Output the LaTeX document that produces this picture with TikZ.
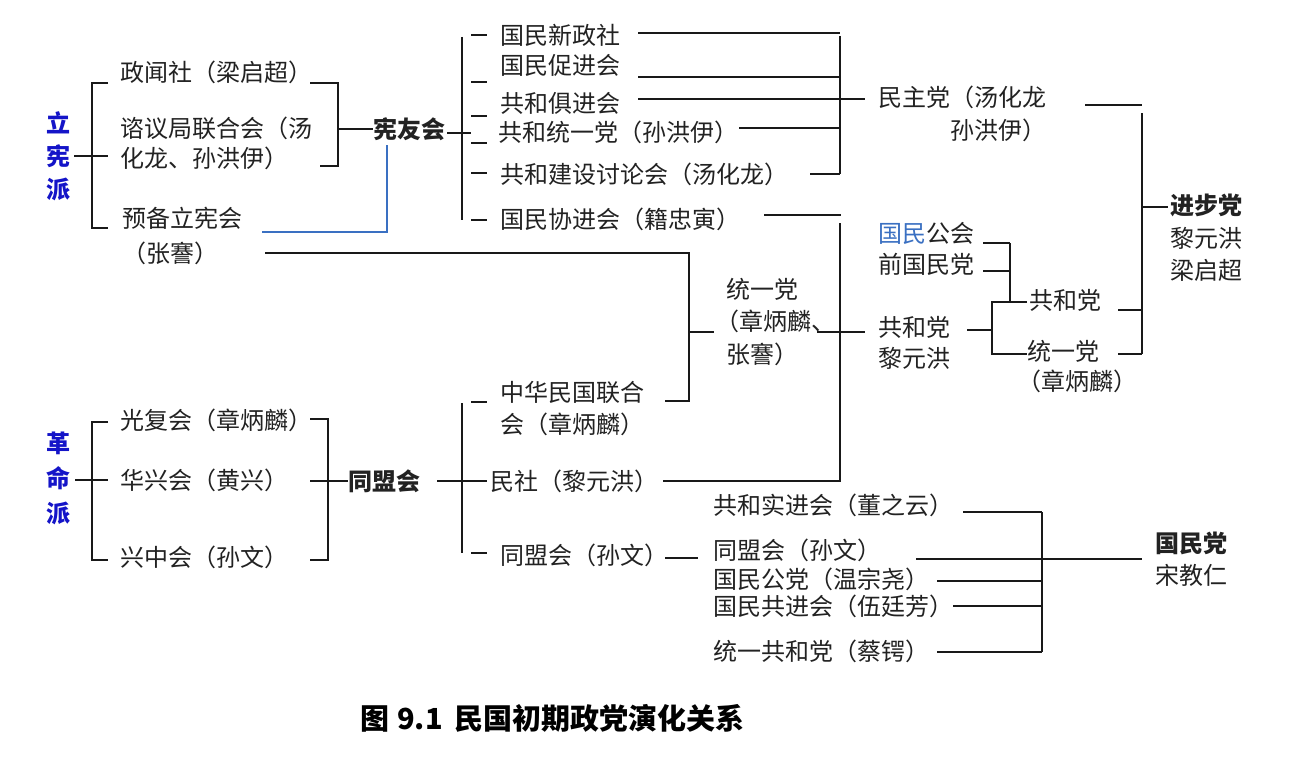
\documentclass[tikz,border=0pt]{standalone}
\usepackage{fontspec}
\setmainfont{Noto Sans CJK SC}
\definecolor{tx}{HTML}{222222}
\definecolor{pblue}{HTML}{1414C8}
\definecolor{lblue}{HTML}{3A70C2}
\newcommand{\fsz}[1]{\fontsize{24}{#1}\selectfont}
\tikzset{
  t/.style={anchor=west, inner sep=0pt, text=tx, font=\fsz{30}, align=left},
  tb/.style={t, font=\bfseries\fsz{30}},
  vlab/.style={anchor=center, inner sep=0pt, text=pblue, font=\bfseries\fsz{#1}, align=center},
  ln/.style={line width=1.5pt, draw=black!90},
  bln/.style={line width=1.3pt, draw=lblue},
}
\begin{document}
\begin{tikzpicture}[x=1pt,y=-1pt]
\useasboundingbox[fill=white] (0,0) rectangle (1292,768);

% ---------- left top: 立宪派 ----------
\node[vlab=33] (lxp) at (58,156) {立\\宪\\派};
\node[t] (zws) at (120,72) {政闻社（梁启超）};
\node[t] (zyj) at (120,143) {谘议局联合会（汤\\化龙、孙洪伊）};
\node[t, font=\fsz{35}] (ybl) at (122,235.5) {预备立宪会\\（张謇）};
\node[tb] (xyh) at (373,129) {宪友会};

\coordinate (l1) at (92,156);
\draw[ln] (lxp.east) ++(4,0) coordinate (lxpE) -- (l1);
\draw[ln] (108,83) -- (92,83) -- (92,228) -- (108,228);
\draw[ln] (l1) -- (108,156);
\draw[ln] (310,83) -- (338,83) -- (338,166) -- (320,166);
\draw[ln] (338,129) -- (xyh.west);
\coordinate (blA) at (262,232);
\coordinate (blB) at (387,145);
\draw[bln] (blA) -| (blB);

% long line from (张謇) to 统一党
\coordinate (zjA) at (265,253);
\coordinate (zjB) at (689,253);
\coordinate (zjC) at (689,401);
\draw[ln] (zjA) -- (zjB) -- (zjC) -- (665,401);
\node[t, font=\fsz{32.5}] (tyd) at (726,322) {统一党\\\hspace*{-11pt}（章炳麟、\\张謇）};
\draw[ln] (689,332) -- (714,332);
\draw[ln] (817,332) -- (865,332);

% ---------- 宪友会 branches ----------
\draw[ln] (xyh.east) ++(2,4) -- (471,133);
\draw[ln] (462,37) -- (462,220);
\foreach \yy in {35,82,116,143,173,220} \draw[ln] (471,\yy) -- (487,\yy);

\node[t] (gmxz) at (500,35) {国民新政社};
\node[t] (gmcj) at (500,65) {国民促进会};
\node[t] (ghjj) at (500,103) {共和俱进会};
\node[t] (ghty) at (498,132) {共和统一党（孙洪伊）};
\node[t] (ghjs) at (500,174) {共和建设讨论会（汤化龙）};
\node[t] (gmxj) at (500,219) {国民协进会（籍忠寅）};

\draw[ln] (638,33) -- (840,33);
\draw[ln] (638,77) -- (840,77);
\draw[ln] (638,99) -- (865,99);
\draw[ln] (739,128) -- (840,128);
\draw[ln] (810,174) -- (840,174);
\draw[ln] (840,36) -- (840,174);

\node[t, align=right, font=\fsz{33}] (mzd) at (878,113.5) {民主党（汤化龙\\孙洪伊）};
\draw[ln] (1085,105) -- (1142,105);
\draw[ln] (1142,113) -- (1142,354);
\draw[ln] (1142,207) -- (1168,207);
\node[t, font=\fsz{32.5}] (jbd) at (1170,238) {\textbf{进步党}\\黎元洪\\梁启超};

% 国民协进会 -> 共和党 column
\draw[ln] (764,215) -- (841,215);
\draw[ln] (840,223) -- (840,482);

\node[t, font=\fsz{31}] (gmgh) at (878,248.5) {\textcolor{lblue}{国民}公会\\前国民党};
\draw[ln] (983,243) -- (1010,243);
\draw[ln] (983,271) -- (1010,271);
\draw[ln] (1010,243) -- (1010,302);

\node[t, font=\fsz{31}] (ghd2) at (878,342.5) {共和党\\黎元洪};
\draw[ln] (967,330) -- (992,330);
\draw[ln] (1027,302) -- (992,302) -- (992,354) -- (1027,354);
\node[t] (ghd3) at (1029,300) {共和党};
\node[t, font=\fsz{30}] (tyd2) at (1027,367) {统一党\\\hspace*{-10pt}（章炳麟）};
\draw[ln] (1118,310) -- (1142,310);
\draw[ln] (1118,354) -- (1142,354);

% ---------- left bottom: 革命派 ----------
\node[vlab=35] (gmp) at (58,478) {革\\命\\派};
\node[t] (gfh) at (120,420) {光复会（章炳麟）};
\node[t] (hxh) at (120,480) {华兴会（黄兴）};
\node[t] (xzh) at (120,557) {兴中会（孙文）};
\draw[ln] (75,480) -- (108,480);
\draw[ln] (108,422) -- (92,422) -- (92,560) -- (108,560);
\draw[ln] (310,419) -- (328,419) -- (328,560) -- (310,560);
\node[tb] (tmh) at (348,481) {同盟会};
\draw[ln] (310,481) -- (tmh.west);

\draw[ln] (437,481) -- (487,481);
\draw[ln] (462,403) -- (462,553);
\draw[ln] (471,402) -- (487,402);
\draw[ln] (471,553) -- (487,553);

\node[t, font=\fsz{32}] (zhmg) at (500,409) {中华民国联合\\会（章炳麟）};
\node[t] (ms) at (490,481) {民社（黎元洪）};
\node[t] (tmh2) at (500,555) {同盟会（孙文）};
\draw[ln] (663,481) -- (840,481);
\draw[ln] (665,558) -- (698,558);

% ---------- right bottom: 国民党 ----------
\node[t] (ghsj) at (713,505) {共和实进会（董之云）};
\node[t] (tmh3) at (713,550) {同盟会（孙文）};
\node[t] (gmgd) at (713,579) {国民公党（温宗尧）};
\node[t] (gmgj) at (713,606) {国民共进会（伍廷芳）};
\node[t] (tygh) at (713,651) {统一共和党（蔡锷）};
\draw[ln] (963,512) -- (1042,512);
\draw[ln] (916,559) -- (1142,559);
\draw[ln] (937,581) -- (1042,581);
\draw[ln] (953,606) -- (1042,606);
\draw[ln] (937,652) -- (1042,652);
\draw[ln] (1042,512) -- (1042,652);
\node[t, font=\fsz{32}] (gmd) at (1155,559) {\textbf{国民党}\\宋教仁};

% ---------- caption ----------
\node[anchor=west, inner sep=0pt, text=black, font=\bfseries\fontsize{29}{30}\selectfont] (cap) at (360,718) {图\hspace{8pt}9.1\hspace{12pt}民国初期政党演化关系};
\end{tikzpicture}
\end{document}
